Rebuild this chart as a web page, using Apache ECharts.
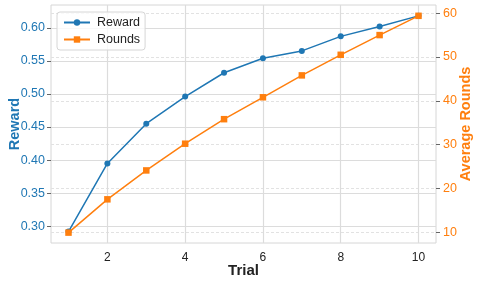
<!DOCTYPE html>
<html><head><meta charset="utf-8">
<script src="https://cdn.jsdelivr.net/npm/echarts@6/dist/echarts.min.js"></script>
<style>html,body{margin:0;padding:0;background:#fff}#c{width:478px;height:283px}</style>
</head><body><div id="c"></div>
<script>
const trials = [1,2,3,4,5,6,7,8,9,10];
const reward = [0.292,0.395,0.455,0.496,0.532,0.554,0.565,0.587,0.602,0.618];
const rounds = [9.9,17.5,24.1,30.2,35.8,40.8,45.8,50.5,55.0,59.4];
const xTicks = [2,4,6,8,10];
const rewardTicks = [0.30,0.35,0.40,0.45,0.50,0.55,0.60];
const roundTicks = [10,20,30,40,50,60];

const BLUE = '#1f77b4', ORANGE = '#ff7f0e';
const FONT = 'Liberation Sans, Arial, sans-serif';
const chart = echarts.init(document.getElementById('c'), null, {renderer:'canvas'});
chart.setOption({
  animation:false,
  backgroundColor:'#fff',
  grid:{left:51,right:42,top:5,bottom:40,show:true,borderColor:'#d6d6d6',borderWidth:1,containLabel:false,outerBoundsMode:'none'},
  legend:{
    left:57, top:12, orient:'vertical', itemWidth:26, itemHeight:8, itemGap:4,
    padding:[4,5,4,6], borderColor:'#d6d6d6', borderWidth:1, borderRadius:3, backgroundColor:'rgba(255,255,255,0.8)',
    textStyle:{fontFamily:FONT,fontSize:12.5,color:'#222',padding:[0,0,0,2]},
    data:['Reward','Rounds']
  },
  xAxis:{
    type:'value', min:0.55, max:10.45,
    name:'Trial', nameLocation:'middle', nameGap:20, nameMoveOverlap:false,
    nameTextStyle:{fontFamily:FONT,fontSize:15,fontWeight:'bold',color:'#222'},
    axisLine:{show:false},
    axisTick:{show:false, customValues:xTicks},
    axisLabel:{customValues:xTicks,fontFamily:FONT,fontSize:12,color:'#222',margin:9},
    splitLine:{show:true,lineStyle:{color:'#dcdcdc',width:1.2}}
  },
  yAxis:[{
    type:'value', min:0.2747, max:0.6344, position:'left',
    name:'Reward', nameLocation:'middle', nameGap:29, nameMoveOverlap:false,
    nameTextStyle:{fontFamily:FONT,fontSize:14.5,fontWeight:'bold',color:BLUE},
    axisLine:{show:false},
    axisTick:{show:true,length:4,customValues:rewardTicks,lineStyle:{color:'#666'}},
    axisLabel:{customValues:rewardTicks,fontFamily:FONT,fontSize:12.5,color:BLUE,margin:6,
      formatter:v=>v.toFixed(2)},
    splitLine:{show:true,lineStyle:{color:'#dcdcdc',width:1.2}}
  },{
    type:'value', min:7.53, max:61.87, position:'right',
    name:'Average Rounds', nameLocation:'middle', nameGap:22, nameMoveOverlap:false,
    nameTextStyle:{fontFamily:FONT,fontSize:14.5,fontWeight:'bold',color:ORANGE},
    axisLine:{show:false},
    axisTick:{show:true,length:4,customValues:roundTicks,lineStyle:{color:'#666'}},
    axisLabel:{customValues:roundTicks,fontFamily:FONT,fontSize:12.5,color:ORANGE,margin:7},
    splitLine:{show:true,lineStyle:{color:'#e2e2e2',width:1,type:[3,2]}}
  }],
  series:[{
    name:'Reward', type:'line', yAxisIndex:0,
    data:trials.map((t,i)=>[t,reward[i]]),
    symbol:'circle', symbolSize:6,
    lineStyle:{color:BLUE,width:1.5}, itemStyle:{color:BLUE}, z:3
  },{
    name:'Rounds', type:'line', yAxisIndex:1,
    data:trials.map((t,i)=>[t,rounds[i]]),
    symbol:'rect', symbolSize:6.5,
    lineStyle:{color:ORANGE,width:1.5}, itemStyle:{color:ORANGE}, z:4
  }]
});
</script></body></html>
